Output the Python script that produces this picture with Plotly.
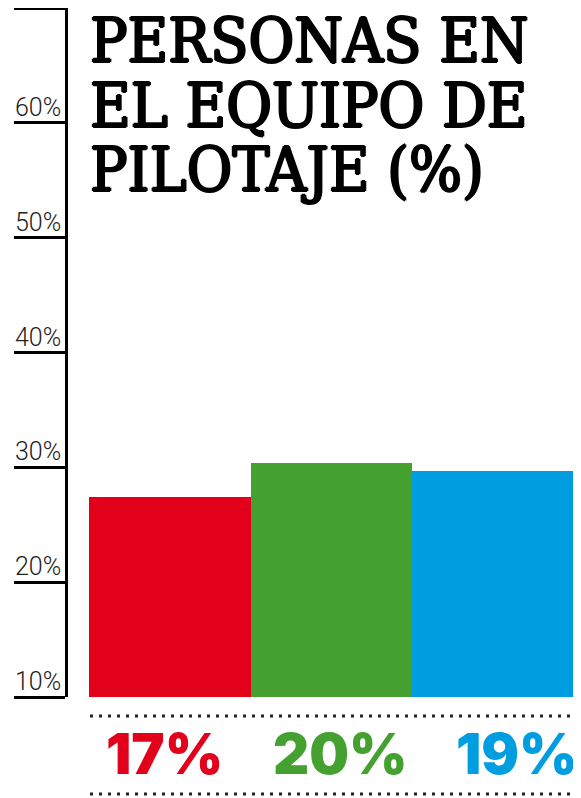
import plotly.graph_objects as go

# ---- data ----
categories = ["A", "B", "C"]
bar_heights = [17.4, 20.4, 19.7]          # height of each bar above the 10% baseline (axis units)
bar_base = 10
value_labels = ["17%", "20%", "19%"]
colors = ["#E2001A", "#45A12F", "#009EE0"]
tick_values = [10, 20, 30, 40, 50, 60, 70]
tick_labels = ["10%", "20%", "30%", "40%", "50%", "60%", ""]
title_lines = ["PERSONAS EN", "EL EQUIPO DE", "PILOTAJE (%)"]

# page body has an 8px margin; figure is sized/offset to compensate
OFF = 8
W, H = 581 - OFF, 798 - OFF
ML, MR, MT, MB = 60, 7, 0, 101

fig = go.Figure()
fig.add_trace(go.Bar(
    x=list(range(len(categories))), y=bar_heights, base=bar_base,
    marker=dict(color=colors, line=dict(width=0)),
    width=1, hoverinfo="skip", showlegend=False,
))

plot_w = W - ML - MR
plot_h = H - MT - MB

def px_x(p):  # page pixel -> paper
    return (p - OFF - ML) / plot_w

def px_y(p):
    return (H - MB - (p - OFF)) / plot_h

annotations = []
for v, t in zip(tick_values, tick_labels):
    if not t:
        continue
    annotations.append(dict(
        x=0, xref="paper", y=v, yref="y", text=t, showarrow=False,
        xanchor="right", yanchor="bottom", xshift=-5, yshift=-1,
        font=dict(family="Roboto, Lato, Liberation Sans", size=25, color="#222222", weight=300),
    ))

title_y = [40.5, 105.5, 169.5]
for line, py in zip(title_lines, title_y):
    annotations.append(dict(
        x=px_x(88), xref="paper", y=px_y(py), yref="paper", text=line,
        showarrow=False, xanchor="left", yanchor="middle",
        font=dict(family="DejaVu Serif Condensed, DejaVu Serif", size=62, color="#000000",
                  shadow="1.2px 0 0 #000, -1.2px 0 0 #000, 0 0.6px 0 #000, 0 -0.6px 0 #000"),
    ))

shifts = [-5, 8, 24]
for i, (t, c) in enumerate(zip(value_labels, colors)):
    annotations.append(dict(
        x=i, xref="x", y=px_y(753.5), yref="paper", text=t, showarrow=False,
        xanchor="center", yanchor="middle", xshift=shifts[i],
        font=dict(family="Inter, Roboto, Liberation Sans", size=56, color=c, weight=900),
    ))

shapes = []
for py in [716, 794]:
    shapes.append(dict(
        type="line", xref="paper", yref="paper",
        x0=px_x(90), x1=px_x(574), y0=px_y(py), y1=px_y(py),
        line=dict(color="#222222", width=3, dash="3px,6px"),
    ))

fig.update_layout(
    width=W, height=H,
    margin=dict(l=ML, r=MR, t=MT, b=MB, pad=0),
    paper_bgcolor="white", plot_bgcolor="white",
    bargap=0,
    xaxis=dict(range=[-0.63, 2.5], visible=False, fixedrange=True),
    yaxis=dict(
        range=[10, 70], tickvals=tick_values, ticktext=tick_labels,
        showticklabels=False, ticks="outside", ticklen=51, tickwidth=3,
        tickcolor="#000000", showline=True, linewidth=3, linecolor="#000000",
        showgrid=False, zeroline=False, fixedrange=True,
    ),
    annotations=annotations,
    shapes=shapes,
    showlegend=False,
)

fig.write_html("out.html", config={"displayModeBar": False})
